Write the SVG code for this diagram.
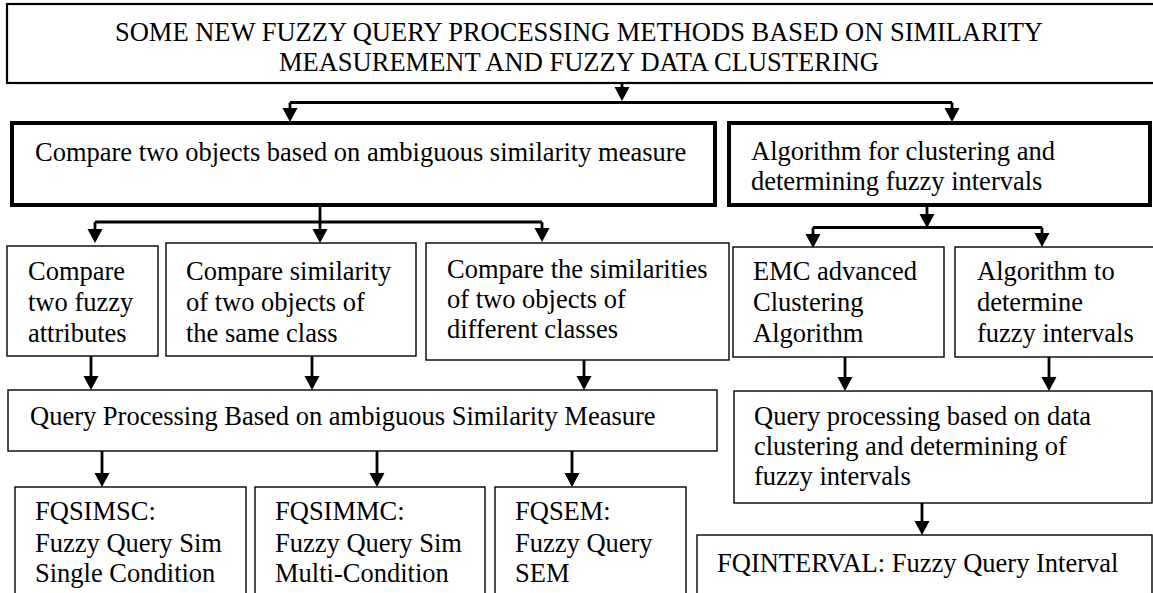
<svg xmlns="http://www.w3.org/2000/svg" width="1153" height="593" viewBox="0 0 1153 593">
  <defs>
    <style>
      text { font-family: "Liberation Serif", "Times New Roman", serif; font-size: 26.5px; fill: #000; }
      .box { fill: #fff; stroke: #000; stroke-width: 1.4; }
      .head { fill: #fff; stroke: #000; stroke-width: 2.2; }
      .major { fill: #fff; stroke: #000; stroke-width: 4; }
      .wire { fill: none; stroke: #000; stroke-width: 2.8; marker-end: url(#tip); }
      .rail { fill: none; stroke: #000; stroke-width: 2.8; }
    </style>
    <marker id="tip" markerUnits="userSpaceOnUse" markerWidth="16" markerHeight="16" refX="11" refY="7.5" orient="auto">
      <path d="M0,0 L14,7.5 L0,15 z" fill="#000"/>
    </marker>
  </defs>

  <!-- root -->
  <g id="root">
    <rect class="head" x="7" y="4" width="1150" height="79"/>
    <text x="579" y="41" text-anchor="middle">SOME NEW FUZZY QUERY PROCESSING METHODS BASED ON SIMILARITY</text>
    <text x="579" y="71" text-anchor="middle">MEASUREMENT AND FUZZY DATA CLUSTERING</text>
  </g>

  <!-- second level -->
  <g id="similarity">
    <rect class="major" x="12" y="123" width="703" height="82"/>
    <text x="35" y="161">Compare two objects based on ambiguous similarity measure</text>
  </g>
  <g id="clustering">
    <rect class="major" x="729" y="123" width="421" height="82"/>
    <text x="751" y="160">Algorithm for clustering and</text>
    <text x="751" y="190">determining fuzzy intervals</text>
  </g>

  <!-- third level -->
  <g id="fuzzy-attributes">
    <rect class="box" x="7" y="246" width="151" height="110"/>
    <text x="28" y="280">Compare</text>
    <text x="28" y="311">two fuzzy</text>
    <text x="28" y="342">attributes</text>
  </g>
  <g id="same-class">
    <rect class="box" x="166" y="243" width="250" height="113"/>
    <text x="186" y="280">Compare similarity</text>
    <text x="186" y="311">of two objects of</text>
    <text x="186" y="342">the same class</text>
  </g>
  <g id="different-classes">
    <rect class="box" x="426" y="243" width="303" height="117"/>
    <text x="447" y="278">Compare the similarities</text>
    <text x="447" y="308">of two objects of</text>
    <text x="447" y="338">different classes</text>
  </g>
  <g id="emc">
    <rect class="box" x="733" y="247" width="211" height="110"/>
    <text x="753" y="280">EMC advanced</text>
    <text x="753" y="311">Clustering</text>
    <text x="753" y="342">Algorithm</text>
  </g>
  <g id="intervals">
    <rect class="box" x="955" y="247" width="205" height="110"/>
    <text x="977" y="280">Algorithm to</text>
    <text x="977" y="311">determine</text>
    <text x="977" y="342">fuzzy intervals</text>
  </g>

  <!-- fourth level -->
  <g id="query-sim">
    <rect class="box" x="8" y="390" width="709" height="61"/>
    <text x="30" y="425">Query Processing Based on ambiguous Similarity Measure</text>
  </g>
  <g id="query-cluster">
    <rect class="box" x="734" y="391" width="418" height="112"/>
    <text x="754" y="425">Query processing based on data</text>
    <text x="754" y="455">clustering and determining of</text>
    <text x="754" y="485">fuzzy intervals</text>
  </g>

  <!-- fifth level -->
  <g id="fqsimsc">
    <rect class="box" x="15" y="487" width="231" height="120"/>
    <text x="35" y="520">FQSIMSC:</text>
    <text x="35" y="552">Fuzzy Query Sim</text>
    <text x="35" y="582">Single Condition</text>
  </g>
  <g id="fqsimmc">
    <rect class="box" x="255" y="487" width="230" height="120"/>
    <text x="275" y="520">FQSIMMC:</text>
    <text x="275" y="552">Fuzzy Query Sim</text>
    <text x="275" y="582">Multi-Condition</text>
  </g>
  <g id="fqsem">
    <rect class="box" x="495" y="487" width="191" height="120"/>
    <text x="515" y="520">FQSEM:</text>
    <text x="515" y="552">Fuzzy Query</text>
    <text x="515" y="582">SEM</text>
  </g>
  <g id="fqinterval">
    <rect class="box" x="697" y="535" width="455" height="70"/>
    <text x="717" y="572">FQINTERVAL: Fuzzy Query Interval</text>
  </g>

  <!-- connectors -->
  <g id="connectors">
    <path class="wire" d="M622,83 V98"/>
    <path class="rail" d="M290,102.5 H952"/>
    <path class="wire" d="M290,102.5 V119"/>
    <path class="wire" d="M952,102.5 V119"/>

    <path class="wire" d="M320,205 V240"/>
    <path class="rail" d="M95,222 H542"/>
    <path class="wire" d="M95,222 V240"/>
    <path class="wire" d="M542,222 V239"/>

    <path class="wire" d="M927,205 V225"/>
    <path class="rail" d="M813,227.5 H1042"/>
    <path class="wire" d="M813,227.5 V245"/>
    <path class="wire" d="M1042,227.5 V244"/>

    <path class="wire" d="M91,356 V387"/>
    <path class="wire" d="M312,356 V387"/>
    <path class="wire" d="M584,360 V387"/>
    <path class="wire" d="M845,357 V388"/>
    <path class="wire" d="M1049,357 V388"/>

    <path class="wire" d="M102,451 V484"/>
    <path class="wire" d="M377,451 V484"/>
    <path class="wire" d="M572,451 V484"/>
    <path class="wire" d="M922,503 V532"/>
  </g>
</svg>
